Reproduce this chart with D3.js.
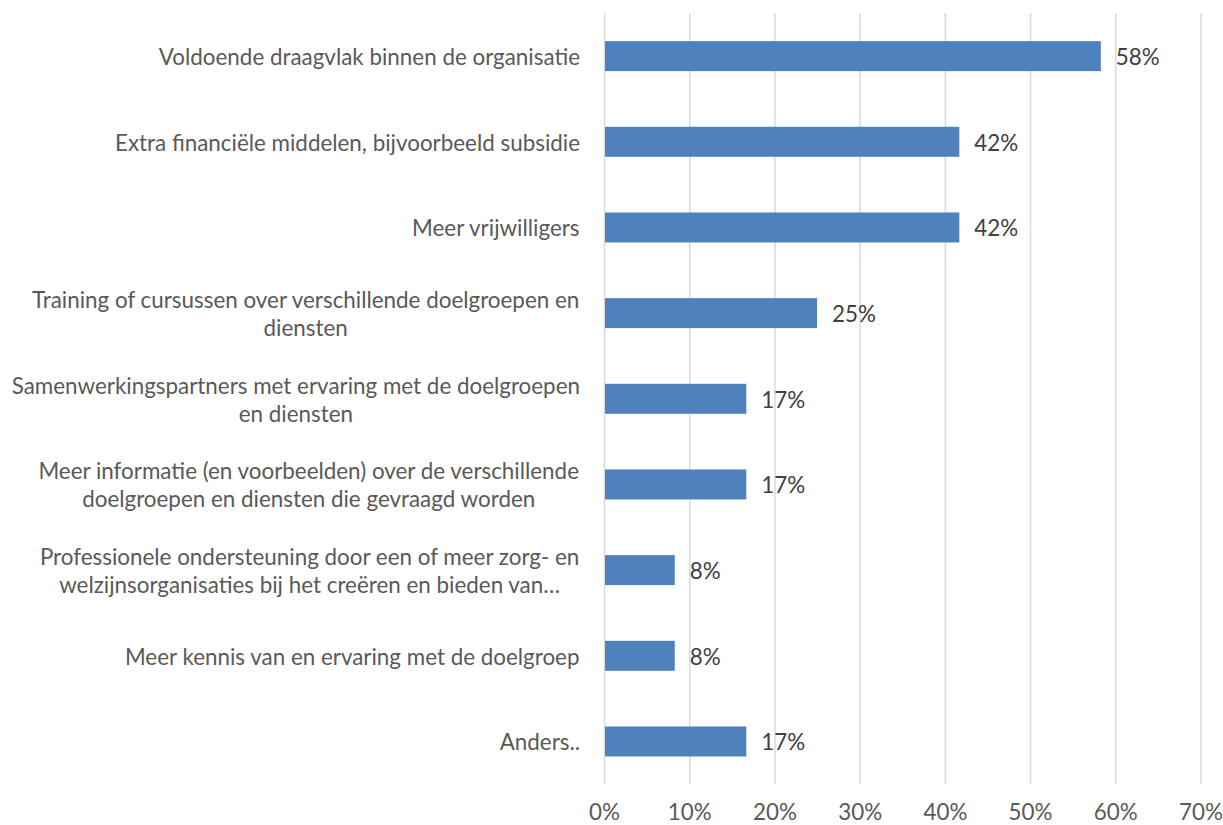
<!DOCTYPE html>
<html>
<head>
<meta charset="utf-8">
<script src="https://cdn.jsdelivr.net/npm/d3@7"></script>
<style>
  html, body { margin: 0; padding: 0; background: #fff; }
  svg { display: block; }
</style>
</head>
<body>
<svg id="chart" width="1223" height="825"></svg>
<script>
// ---- data ----
const categories = [
  "Voldoende draagvlak binnen de organisatie",
  "Extra financiële middelen, bijvoorbeeld subsidie",
  "Meer vrijwilligers",
  "Training of cursussen over verschillende doelgroepen en\ndiensten",
  "Samenwerkingspartners met ervaring met de doelgroepen\nen diensten",
  "Meer informatie (en voorbeelden) over de verschillende\ndoelgroepen en diensten die gevraagd worden",
  "Professionele ondersteuning door een of meer zorg- en\nwelzijnsorganisaties bij het creëren en bieden van…",
  "Meer kennis van en ervaring met de doelgroep",
  "Anders.."
];
const values = [0.583, 0.417, 0.417, 0.25, 0.167, 0.167, 0.083, 0.083, 0.167];
const valueLabels = ["58%", "42%", "42%", "25%", "17%", "17%", "8%", "8%", "17%"];
const tickValues = [0, 0.1, 0.2, 0.3, 0.4, 0.5, 0.6, 0.7];
const tickLabels = ["0%", "10%", "20%", "30%", "40%", "50%", "60%", "70%"];

// ---- layout ----
const FONT = "Lato, 'Open Sans', sans-serif";
const plotLeft = 604, plotRight = 1200.5, plotTop = 13.3, plotBottom = 784.3;
const labelRight = 580;

// fit font size so the reference label matches the original width
const ctx = document.createElement("canvas").getContext("2d");
ctx.font = "20px Lato";
const refW = ctx.measureText("Voldoende draagvlak binnen de organisatie").width;
const fontSize = Math.round(20 * 421 / refW * 10) / 10;
ctx.font = fontSize + "px Lato";

const svg = d3.select("#chart");

const x = d3.scaleLinear().domain([0, 0.7]).range([plotLeft, plotRight]);
const y = d3.scaleBand().domain(categories).range([plotTop, plotBottom])
  .paddingInner(0.65).paddingOuter(0.325);

// gridlines + tick labels via axis
const xAxis = d3.axisBottom(x)
  .tickValues(tickValues)
  .tickFormat((d, i) => tickLabels[i])
  .tickSize(-(plotBottom - plotTop));
const gx = svg.append("g")
  .attr("transform", `translate(0,${plotBottom})`)
  .call(xAxis);
gx.select(".domain").remove();
gx.selectAll(".tick line").attr("stroke", "#d9d9d9").attr("stroke-width", 1.5);
gx.selectAll(".tick text")
  .attr("y", 27).attr("dy", "0.4em")
  .attr("fill", "#595959")
  .style("font-family", FONT)
  .style("font-size", fontSize + "px");

// bars
svg.append("g").selectAll("rect")
  .data(values)
  .join("rect")
  .attr("x", x(0) + 1)
  .attr("y", (d, i) => y(categories[i]))
  .attr("width", d => x(d) - x(0) - 1)
  .attr("height", y.bandwidth())
  .attr("fill", "#4f81bd");

// value labels
svg.append("g").selectAll("text")
  .data(values)
  .join("text")
  .attr("x", d => x(d) + 15)
  .attr("y", (d, i) => y(categories[i]) + y.bandwidth() / 2)
  .attr("dy", "0.4em")
  .attr("fill", "#404040")
  .style("font-family", FONT)
  .style("font-size", fontSize + "px")
  .text((d, i) => valueLabels[i]);

// category labels (wrapped lines centered within a right-aligned block)
const lineH = 28;
const gl = svg.append("g");
categories.forEach(c => {
  const lines = c.split("\n");
  const maxW = d3.max(lines, l => ctx.measureText(l).width);
  const cx = labelRight - maxW / 2;
  const cy = y(c) + y.bandwidth() / 2;
  const t = gl.append("text")
    .attr("text-anchor", "middle")
    .attr("fill", "#595959")
    .style("font-family", FONT)
    .style("font-size", fontSize + "px");
  lines.forEach((l, j) => {
    t.append("tspan")
      .attr("x", cx)
      .attr("y", cy + (j - (lines.length - 1) / 2) * lineH)
      .attr("dy", "0.4em")
      .text(l);
  });
});
</script>
</body>
</html>
